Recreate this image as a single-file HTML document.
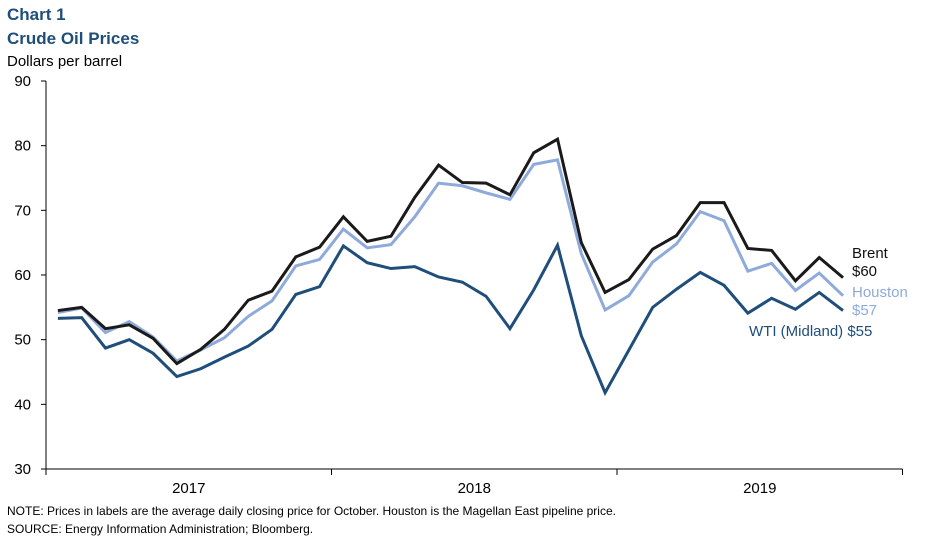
<!DOCTYPE html>
<html><head><meta charset="utf-8"><style>
body{margin:0;background:#fff;width:949px;height:542px;overflow:hidden;font-family:"Liberation Sans",Arial,sans-serif}
</style></head><body>
<svg width="949" height="542" xmlns="http://www.w3.org/2000/svg" font-family="Liberation Sans, Arial, sans-serif">
<text x="7" y="20" font-size="17" font-weight="bold" fill="#1f4e7a">Chart 1</text>
<text x="7" y="44" font-size="17" font-weight="bold" fill="#1f4e7a">Crude Oil Prices</text>
<text x="7" y="66" font-size="15" fill="#000">Dollars per barrel</text>
<g id="axes"></g>
<g id="lines"></g>
<text x="852" y="258" font-size="15" fill="#111">Brent</text>
<text x="852" y="276" font-size="15" fill="#111">$60</text>
<text x="852" y="297" font-size="15" fill="#8eaadb">Houston</text>
<text x="852" y="315" font-size="15" fill="#8eaadb">$57</text>
<text x="749" y="336" font-size="15" fill="#1f4e7a">WTI (Midland) $55</text>
<text x="7" y="515" font-size="12" fill="#000">NOTE: Prices in labels are the average  daily closing price for October. Houston is the Magellan East pipeline price.</text>
<text x="7" y="533" font-size="12" fill="#000">SOURCE: Energy Information  Administration; Bloomberg.</text>
</svg>
<script>
const yTicks=[30,40,50,60,70,80,90];
const years=["2017","2018","2019"];
const brent=[54.5,55,51.7,52.3,50.2,46.3,48.5,51.6,56.1,57.5,62.8,64.3,69,65.2,66,72,77,74.3,74.2,72.4,78.9,81,65,57.3,59.3,64,66.1,71.2,71.2,64.1,63.8,59.1,62.7,59.6];
const houston=[54.2,54.9,51.1,52.8,50.4,46.7,48.4,50.3,53.6,56,61.4,62.4,67.1,64.2,64.7,69,74.2,73.8,72.7,71.7,77.1,77.8,63.3,54.6,56.8,62,64.8,69.8,68.4,60.6,61.8,57.6,60.3,56.8];
const wti=[53.3,53.4,48.7,50,47.9,44.3,45.5,47.3,49,51.6,57,58.2,64.5,61.9,61,61.3,59.7,58.9,56.7,51.7,57.7,64.6,50.6,41.8,48.4,55,57.8,60.4,58.4,54.1,56.4,54.7,57.3,54.5];
const X0=46,MW=285.5/12,Y0=469,YS=388/60;
const x=i=>X0+MW*(i+0.5);
const y=v=>Y0-(v-30)*YS;
const NS="http://www.w3.org/2000/svg";
const ax=document.getElementById('axes');
function mk(tag,a,p){const e=document.createElementNS(NS,tag);for(const k in a)e.setAttribute(k,a[k]);p.appendChild(e);return e;}
let e=mk('line',{x1:X0,y1:y(90),x2:X0,y2:Y0,stroke:'#000','stroke-width':1},ax);


e=mk('line',{x1:X0,y1:Y0,x2:X0+285.5*3,y2:Y0,stroke:'#000','stroke-width':1},ax);


yTicks.forEach(v=>{
 const t=mk('line',{x1:X0-5,y1:y(v),x2:X0,y2:y(v),stroke:'#000'},ax);
 
 
 const l=mk('text',{x:31,y:y(v)+5,'font-size':15,'text-anchor':'end',fill:'#000'},ax);
 l.textContent=v;
 
 
});
for(let i=0;i<=3;i++){
 const t=mk('line',{x1:X0+285.5*i,y1:Y0,x2:X0+285.5*i,y2:Y0+6,stroke:'#000'},ax);
 
 
}
years.forEach((yr,i)=>{
 const l=mk('text',{x:X0+285.5*(i+0.5),y:Y0+24,'font-size':15,'text-anchor':'middle',fill:'#000'},ax);
 l.textContent=yr;
 
 
});
const lg=document.getElementById('lines');
[[wti,'#1f4e7a','line-wti'],[houston,'#8eaadb','line-houston'],[brent,'#1a1a1a','line-brent']].forEach(([d,c,n])=>{
 const p=mk('polyline',{points:d.map((v,i)=>x(i)+','+y(v)).join(' '),fill:'none',stroke:c,'stroke-width':3,'stroke-linejoin':'miter'},lg);
 
 
});
</script>
</body></html>
